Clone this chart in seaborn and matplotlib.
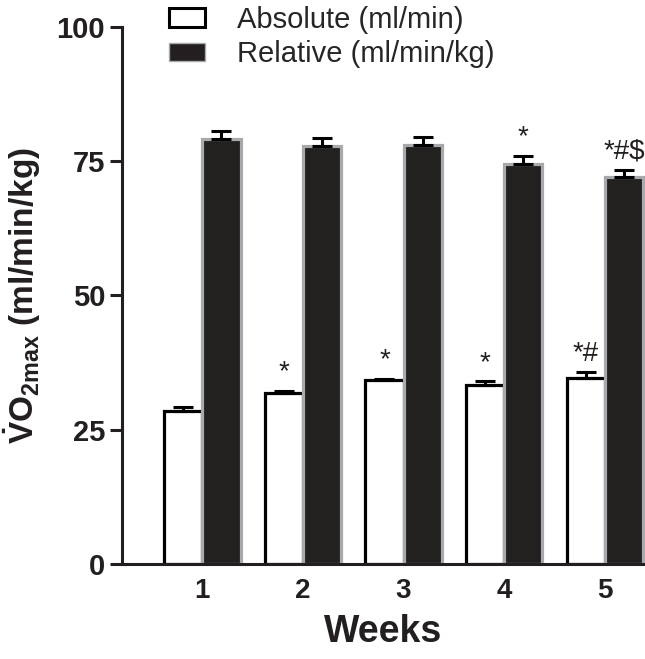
import numpy as np
import pandas as pd
import matplotlib
matplotlib.use("Agg")
import matplotlib.pyplot as plt
from matplotlib.patches import Patch
import seaborn as sns

# values
weeks = ["1", "2", "3", "4", "5"]
absolute = [28.4, 31.9, 34.2, 33.3, 34.7]
absolute_err = [0.9, 0.4, 0.3, 0.7, 1.0]
relative = [79.2, 77.8, 78.0, 74.4, 72.0]
relative_err = [1.4, 1.5, 1.6, 1.6, 1.3]
absolute_marks = ["", "*", "*", "*", "*#"]
relative_marks = ["", "", "", "*", "*#$"]
groups = ["Absolute (ml/min)", "Relative (ml/min/kg)"]

sns.set_theme(style="ticks")
plt.rcParams["font.family"] = ["Liberation Sans", "DejaVu Sans"]
plt.rcParams["mathtext.fontset"] = "custom"
plt.rcParams["mathtext.rm"] = "Liberation Sans:bold"
plt.rcParams["mathtext.bf"] = "Liberation Sans:bold"

df = pd.DataFrame({
    "week": weeks * 2,
    "value": absolute + relative,
    "group": [groups[0]] * 5 + [groups[1]] * 5,
})

fig = plt.figure(figsize=(6.45, 6.59), dpi=100)
ax = fig.add_axes([0.189, 0.1442, 0.811, 0.8149])

dark = "#231f20"
grey = "#a7a9ac"
sns.barplot(data=df, x="week", y="value", hue="group", hue_order=groups,
            palette=["white", dark], width=0.76, gap=0, errorbar=None,
            legend=False, ax=ax)

# edges, error bars and significance marks
errs = [absolute_err, relative_err]
marks = [absolute_marks, relative_marks]
edges = ["black", grey]
bar_groups = list(ax.containers)
for k, cont in enumerate(bar_groups):
    xs, ys = [], []
    for bar in cont:
        bar.set_edgecolor(edges[k])
        bar.set_linewidth(2.3)
        xs.append(bar.get_x() + bar.get_width() / 2)
        ys.append(bar.get_height())
    ax.errorbar(xs, ys, yerr=[np.zeros(5), errs[k]], fmt="none",
                ecolor="black", elinewidth=2.2, capsize=7.5, capthick=2.2,
                zorder=1)
    for x, y, e, m in zip(xs, ys, errs[k], marks[k]):
        if m:
            ax.annotate(m, (x, y + e), xytext=(0, 4), textcoords="offset points",
                        ha="center", va="bottom", fontsize=20, color=dark)

ax.set_xlim(-0.8, 4.4)
ax.set_ylim(0, 100)
ax.set_yticks([0, 25, 50, 75, 100])
sns.despine(ax=ax)
for s in ["left", "bottom"]:
    ax.spines[s].set_linewidth(2.2)
    ax.spines[s].set_color(dark)
ax.tick_params(axis="y", length=9, width=2.2, pad=3, labelsize=21, colors=dark)
ax.tick_params(axis="x", length=0, pad=10, labelsize=20, colors=dark)
for lab in ax.get_xticklabels() + ax.get_yticklabels():
    lab.set_fontweight("bold")

ax.set_xlabel("Weeks", fontsize=27, fontweight="bold", labelpad=7, color=dark)
ax.set_ylabel(r"$\dot{\mathrm{V}}\mathrm{O}_{\mathrm{2max}}$ (ml/min/kg)",
              fontsize=24, fontweight="bold", labelpad=10, color=dark)

handles = [Patch(facecolor="white", edgecolor="black", linewidth=2.2),
           Patch(facecolor=dark, edgecolor=grey, linewidth=1.0)]
fig.legend(handles, groups, loc="upper left", bbox_to_anchor=(0.23, 1.022),
           frameon=False, fontsize=21, handlelength=1.25, handleheight=0.6,
           handletextpad=1.1, labelspacing=0.22, borderpad=0.2)

fig.savefig("out.png", dpi=100)
